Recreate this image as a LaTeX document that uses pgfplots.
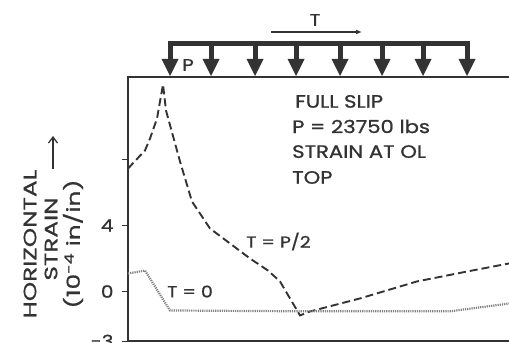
\documentclass[border=0pt]{standalone}
\usepackage{fontspec}
\setmainfont{Poppins}[FakeStretch=1.18, FakeBold=1]
\newfontfamily\ylab{Poppins}[FakeStretch=1.38, FakeBold=1]
\usepackage{pgfplots}
\pgfplotsset{compat=1.18}
\usetikzlibrary{arrows.meta}
\definecolor{ink}{HTML}{333333}
\begin{document}
\begin{tikzpicture}
\useasboundingbox (0bp,0bp) rectangle (509bp,343bp);
\begin{axis}[
  at={(128bp,2bp)}, anchor=south west,
  scale only axis, width=381bp, height=264bp,
  xmin=128, xmax=509, ymin=-3, ymax=13,
  axis line style={draw=none},
  xtick=\empty,
  ytick={-3,0,4,8}, yticklabels={-3,0,4,{}},
  tick align=outside, major tick length=6bp,
  tick style={line width=1pt,ink},
  /pgf/number format/assume math mode=true,
  yticklabel style={font=\fontsize{17}{17}\selectfont, text=ink, xshift=-5bp},
  clip=false,
]
\draw[line width=2pt, ink] (rel axis cs:1,1) -- (rel axis cs:0,1) -- (rel axis cs:0,0) -- (rel axis cs:1,0);
% T = P/2
\addplot[ink, line width=1.9pt, dash pattern=on 8pt off 4pt] coordinates {
 (128,7.45) (145,8.55) (150,9.27) (157,10.48) (163,12.55) (166,10.97)
 (180,7.88) (192,5.45) (210,3.82) (230,2.91) (250,2.0) (268,1.27)
 (280,0.61) (300,-1.45) (310,-1.21) (360,-0.42) (417,0.61) (467,1.21) (509,1.70)};
% T = 0
\addplot[black!50, line width=2.2pt, dash pattern=on 1.2pt off 1pt] coordinates {
 (128,1.09) (145,1.27) (170,-1.15) (300,-1.2) (450,-1.2) (509,-0.73)};
\begin{scope}[every node/.style={font=\fontsize{18}{18}\selectfont, text=ink, anchor=west, inner sep=0pt}]
\node at (axis cs:295,11.52) {FULL SLIP};
\node at (axis cs:292,10.0) {P = 23750 lbs};
\node at (axis cs:292,8.48) {STRAIN AT OL};
\node at (axis cs:292,6.91) {TOP};
\end{scope}
\begin{scope}[every node/.style={font=\fontsize{16}{16}\selectfont, text=ink, anchor=west, inner sep=0pt}]
\node at (axis cs:246,3.03) {T = P/2};
\node at (axis cs:167,0) {T = 0};
\end{scope}
\end{axis}
% load diagram
\begin{scope}[ink]
\draw[line width=5bp, line join=miter] (170bp,283bp) -- (170bp,299bp) -- (467bp,299bp) -- (467bp,283bp);
\foreach \x in {211,255,296,340,382,423} {
  \draw[line width=5bp] (\x bp,299bp) -- (\x bp,283bp);
}
\foreach \x in {170,211,255,296,340,382,423,467} {
  \fill (\x bp-8.5bp,284bp) -- (\x bp+8.5bp,284bp) -- (\x bp,267bp) -- cycle;
}
\draw[-{Latex[length=6bp,width=5bp]}, line width=1.2bp] (271bp,311bp) -- (362bp,311bp);
\node[font=\fontsize{17}{17}\selectfont] at (315bp,323bp) {T};
\node[font=\fontsize{17}{17}\selectfont] at (188bp,278bp) {P};
% y label
\begin{scope}[every node/.style={font=\ylab\fontsize{18}{18}\selectfont, rotate=90}]
\node at (30bp,99bp) {HORIZONTAL};
\node at (51bp,104bp) {STRAIN};
\node at (73bp,99bp) {(10\textsuperscript{-4} in/in)};
\end{scope}
\draw[-{Straight Barb[length=6bp,width=9bp]}, line width=1.3bp] (53bp,174bp) -- (53bp,207bp);
\end{scope}
\end{tikzpicture}
\end{document}
